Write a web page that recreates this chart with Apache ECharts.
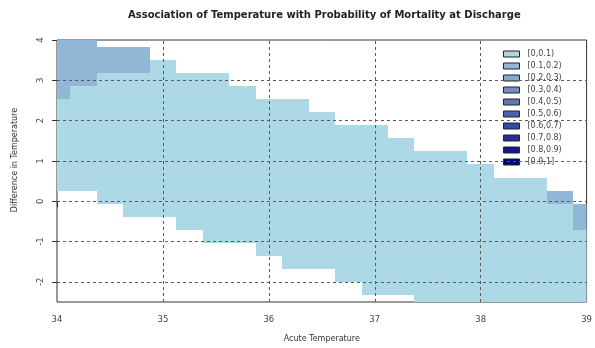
<!DOCTYPE html>
<html>
<head>
<meta charset="utf-8">
<script src="https://cdn.jsdelivr.net/npm/echarts@6/dist/echarts.min.js"></script>
<style>
html,body{margin:0;padding:0;background:#fff;}
#chart{width:595px;height:348px;}
</style>
</head>
<body>
<div id="chart"></div>
<script>
// Grid of acute temperature (x) and temperature difference (y) cell centres
const tempX = [34,34.25,34.5,34.75,35,35.25,35.5,35.75,36,36.25,36.5,36.75,37,37.25,37.5,37.75,38,38.25,38.5,38.75,39];
const diffY = [-2.5,-2.175,-1.85,-1.525,-1.2,-0.875,-0.55,-0.225,0.1,0.425,0.75,1.075,1.4,1.725,2.05,2.375,2.7,3.025,3.35,3.675,4];
// per temperature column: lowest and highest difference with an estimate
const bandLowY  = [0.425,0.425,0.1,-0.225,-0.225,-0.55,-0.875,-0.875,-1.2,-1.525,-1.525,-1.85,-2.175,-2.175,-2.5,-2.5,-2.5,-2.5,-2.5,-2.5,-2.5];
const bandHighY = [4,4,3.675,3.675,3.35,3.025,3.025,2.7,2.375,2.375,2.05,1.725,1.725,1.4,1.075,1.075,0.75,0.425,0.425,0.1,-0.225];
// cells in the [0.1,0.2) probability bin (column, from, to)
const bin1X    = [34, 34.25, 34.5, 34.75, 38.75, 39];
const bin1Low  = [2.7, 3.025, 3.35, 3.35, 0.1, -0.55];
const bin1High = [4, 4, 3.675, 3.675, 0.1, -0.225];
// legend bins
const binLabels = ['[0,0.1)','[0.1,0.2)','[0.2,0.3)','[0.3,0.4)','[0.4,0.5)','[0.5,0.6)','[0.6,0.7)','[0.7,0.8)','[0.8,0.9)','[0.9,1]'];
const binColors = ['#ADD8E6','#91B6D6','#87A8CF','#7390C4','#6078B9','#4D60AD','#3A48A2','#263097','#13188B','#000080'];
const xTicks = [34,35,36,37,38,39];
const yTicks = [-2,-1,0,1,2,3,4];
const xGrid = [35,36,37,38];
const yGrid = [-2,-1,0,1,2,3];

const dx = tempX[1] - tempX[0];
const dy = diffY[1] - diffY[0];

// assign each cell to a bin
const binCells = binLabels.map(() => []);
tempX.forEach((x, i) => {
  const lo = diffY.indexOf(bandLowY[i]);
  const hi = diffY.indexOf(bandHighY[i]);
  const k = bin1X.indexOf(x);
  for (let j = lo; j <= hi; j++) {
    const y = diffY[j];
    let bin = 0;
    if (k >= 0 && j >= diffY.indexOf(bin1Low[k]) && j <= diffY.indexOf(bin1High[k])) bin = 1;
    binCells[bin].push([x, y]);
  }
});

const FONT = 'DejaVu Sans, Verdana, sans-serif';

function renderCell(color) {
  return function (params, api) {
    const x = api.value(0), y = api.value(1);
    const p1 = api.coord([x - dx / 2, y + dy / 2]);
    const p2 = api.coord([x + dx / 2, y - dy / 2]);
    const x1 = Math.round(p1[0]), y1 = Math.round(p1[1]);
    const x2 = Math.round(p2[0]), y2 = Math.round(p2[1]);
    const cs = params.coordSys;
    const r = echarts.graphic.clipRectByRect(
      {x: x1, y: y1, width: x2 - x1, height: y2 - y1},
      {x: cs.x, y: cs.y, width: cs.width, height: cs.height}
    );
    if (!r) return;
    return {type: 'rect', shape: r, style: {fill: color}};
  };
}

const series = binLabels.map((name, b) => ({
  name: name,
  type: 'custom',
  renderItem: renderCell(binColors[b]),
  itemStyle: {color: binColors[b]},
  data: binCells[b],
  silent: true,
  z: 2
}));

series.push({
  name: 'gridlines',
  type: 'line',
  data: [],
  silent: true,
  markLine: {
    silent: true,
    symbol: 'none',
    label: {show: false},
    animation: false,
    lineStyle: {color: '#5a5a5a', type: [3, 3], width: 1},
    data: xGrid.map(v => ({xAxis: v})).concat(yGrid.map(v => ({yAxis: v})))
  }
});

const chart = echarts.init(document.getElementById('chart'), null, {renderer: 'canvas'});
chart.setOption({
  animation: false,
  backgroundColor: '#fff',
  title: {
    text: 'Association of Temperature with Probability of Mortality at Discharge',
    left: 128,
    top: 10,
    padding: 0,
    textStyle: {fontFamily: FONT, fontSize: 10, fontWeight: 'bold', color: '#222'}
  },
  graphic: [{
    type: 'text',
    x: 15, y: 160,
    rotation: Math.PI / 2,
    style: {
      text: 'Difference in Temperature',
      fontFamily: FONT, fontSize: 8, fill: '#333',
      align: 'center', verticalAlign: 'middle'
    }
  }],
  grid: {
    left: 57, right: 5, top: 40, bottom: 40,
    show: true, borderColor: '#333', borderWidth: 1, backgroundColor: 'transparent'
  },
  legend: {
    orient: 'vertical',
    left: 503,
    top: 48,
    padding: 0,
    itemWidth: 16,
    itemHeight: 6,
    itemGap: 0,
    icon: 'rect',
    selectedMode: false,
    textStyle: {fontFamily: FONT, fontSize: 8, color: '#444', lineHeight: 12, padding: [0, 0, 0, 3]},
    data: binLabels.map((n, b) => ({name: n, itemStyle: {color: binColors[b], borderColor: '#222', borderWidth: 1}}))
  },
  xAxis: {
    type: 'value',
    min: 34, max: 39, interval: 1,
    name: 'Acute Temperature',
    nameLocation: 'middle',
    nameGap: 33,
    nameTextStyle: {fontFamily: FONT, fontSize: 8, color: '#333'},
    axisLine: {show: false},
    axisTick: {show: true, length: 6, lineStyle: {color: '#333'}},
    axisLabel: {fontFamily: FONT, fontSize: 8.5, color: '#444', margin: 13},
    splitLine: {show: false}
  },
  yAxis: {
    type: 'value',
    min: -2.5, max: 4,
    axisLine: {show: false},
    axisTick: {show: true, length: 5, customValues: yTicks, lineStyle: {color: '#333'}},
    axisLabel: {fontFamily: FONT, fontSize: 8.5, color: '#444', margin: 12, rotate: 90, customValues: yTicks},
    splitLine: {show: false}
  },
  series: series
});
</script>
</body>
</html>
